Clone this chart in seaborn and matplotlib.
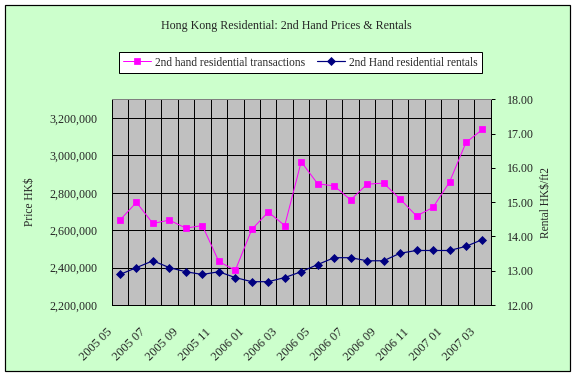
import numpy as np
import pandas as pd
import seaborn as sns
import matplotlib
matplotlib.use("Agg")
import matplotlib.pyplot as plt
from matplotlib.ticker import FuncFormatter, FixedLocator
from matplotlib.patches import Rectangle
from matplotlib.transforms import ScaledTranslation

months = ["2005 05", "2005 06", "2005 07", "2005 08", "2005 09", "2005 10", "2005 11", "2005 12",
          "2006 01", "2006 02", "2006 03", "2006 04", "2006 05", "2006 06", "2006 07", "2006 08",
          "2006 09", "2006 10", "2006 11", "2006 12", "2007 01", "2007 02", "2007 03"]
transactions = [2654000, 2749000, 2636000, 2654000, 2611000, 2625000, 2433000, 2385000,
                2604000, 2697000, 2625000, 2966000, 2848000, 2837000, 2762000, 2846000,
                2852000, 2767000, 2676000, 2722000, 2857000, 3069000, 3139000]
rentals = [12.89, 13.09, 13.29, 13.09, 12.97, 12.89, 12.97, 12.80, 12.68, 12.68, 12.80, 12.97,
           13.18, 13.38, 13.38, 13.29, 13.29, 13.51, 13.59, 13.59, 13.59, 13.71, 13.91]
left_ticks = [2200000, 2400000, 2600000, 2800000, 3000000, 3200000]
right_ticks = [12, 13, 14, 15, 16, 17, 18]

df = pd.DataFrame({"x": np.arange(len(months)), "month": months,
                   "transactions": transactions, "rentals": rentals})

sns.set_theme(style="white")
plt.rcParams["font.family"] = ["Liberation Serif", "DejaVu Serif"]
FS = 11.5
TFS = 12

DPI = 72
fig = plt.figure(figsize=(576 / DPI, 378 / DPI), dpi=DPI)
fig.patch.set_facecolor("white")
bg = Rectangle((5 / 576, 1 - 371 / 378), 565 / 576, 366 / 378,
               transform=fig.transFigure, facecolor="#CCFFCC",
               edgecolor="black", linewidth=1.2, zorder=-10)
fig.add_artist(bg)

ax = fig.add_axes([111.7 / 576, 1 - 305 / 378, 379 / 576, 205.7 / 378])
ax.set_facecolor("#C0C0C0")
ax2 = ax.twinx()

sns.lineplot(data=df, x="x", y="transactions", ax=ax, color="#FF00FF", marker="s",
             markersize=6, markeredgecolor="#FF00FF", linewidth=1,
             label="2nd hand residential transactions", legend=False)
sns.lineplot(data=df, x="x", y="rentals", ax=ax2, color="#000080", marker="D",
             markersize=5, markeredgecolor="#000080", linewidth=1.2,
             label="2nd Hand residential rentals", legend=False)

n = len(months)
ax.set_xlim(-0.5, n - 0.5)
ax.set_ylim(2200000, 3300000)
ax2.set_ylim(12, 18)

ax.yaxis.set_major_locator(FixedLocator(left_ticks))
ax.yaxis.set_major_formatter(FuncFormatter(lambda v, p: f"{int(v):,}"))
ax2.yaxis.set_major_locator(FixedLocator(right_ticks))
ax2.yaxis.set_major_formatter(FuncFormatter(lambda v, p: f"{v:.2f}"))

ax.grid(False)
ax2.grid(False)

ax.tick_params(axis="y", which="both", length=0, labelsize=TFS, pad=14)
ax.tick_params(axis="x", which="both", length=0, pad=0)
ax2.tick_params(axis="y", length=4, width=1, color="black", direction="out",
                labelsize=TFS, pad=12, right=True)

ax.set_xticks(df["x"][::2])
ax.set_xticks(np.arange(-0.5, n, 1.0), minor=True)
ax.set_xticklabels(df["month"][::2], rotation=45, ha="right", va="top",
                   rotation_mode="anchor", fontsize=12.5)
offset = ScaledTranslation(-13.5 / 72, -21 / 72, fig.dpi_scale_trans)
for lab in ax.get_xticklabels():
    lab.set_transform(lab.get_transform() + offset)

ax.grid(True, which="minor", axis="x", color="black", linewidth=1)
ax.grid(True, which="major", axis="y", color="black", linewidth=1)
ax.set_axisbelow(True)
ax.axhline(3300000, color="black", linewidth=1, zorder=1)

for a in (ax, ax2):
    for s in a.spines.values():
        s.set_color("black")
        s.set_linewidth(1)
ax2.spines["top"].set_color("#808080")

ax.set_xlabel("")
ax.set_ylabel("Price HK$", fontsize=FS, labelpad=14)
ax2.set_ylabel("Rental HK$/ft2", fontsize=FS, labelpad=6)

fig.text(286 / 576, 1 - 26 / 378, "Hong Kong Residential: 2nd Hand Prices & Rentals",
         ha="center", va="center", fontsize=12)

h1, l1 = ax.get_legend_handles_labels()
h2, l2 = ax2.get_legend_handles_labels()
leg = fig.legend(h1 + h2, l1 + l2, loc="center", bbox_to_anchor=(300.5 / 576, 1 - 62.5 / 378),
                 ncol=2, fontsize=FS, frameon=True, fancybox=False, handlelength=2.4,
                 columnspacing=1.0, handletextpad=0.4, borderpad=0.4)
leg.get_frame().set_edgecolor("black")
leg.get_frame().set_linewidth(1)
leg.get_frame().set_facecolor("white")
leg.get_frame().set_alpha(1)

fig.savefig("out.png", dpi=DPI)
